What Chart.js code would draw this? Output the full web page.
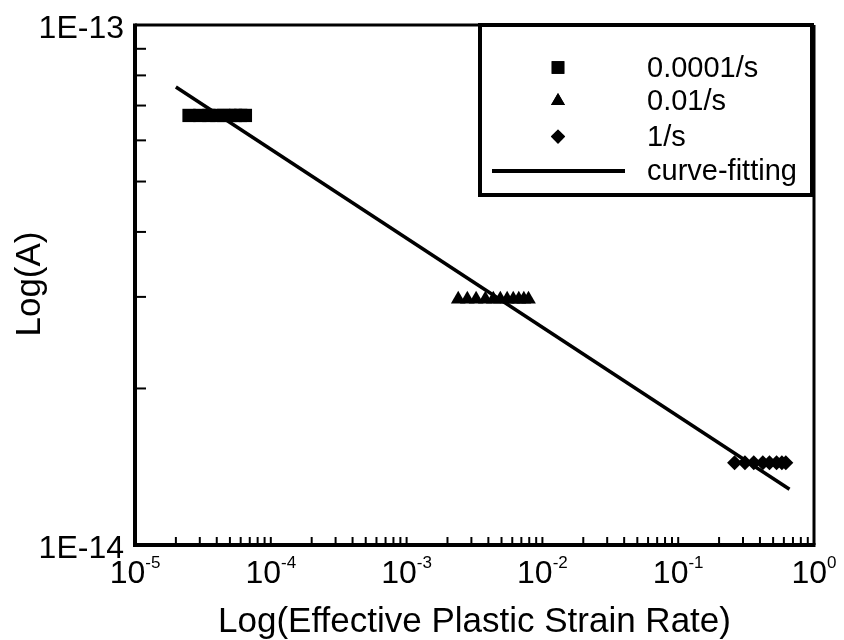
<!DOCTYPE html>
<html>
<head>
<meta charset="utf-8">
<script src="https://cdn.jsdelivr.net/npm/chart.js@4.4.1/dist/chart.umd.min.js"></script>
<style>
  body { margin: 0; background: #fff; }
  canvas { display: block; }
</style>
</head>
<body>
<canvas id="chart" width="844" height="640"></canvas>
<script>
// 0.0001/s group
const rateSlow = [2.5e-5, 3e-5, 3.5e-5, 4e-5, 4.5e-5, 5e-5, 5.5e-5, 6e-5, 6.5e-5];
const aSlow = [6.7e-14, 6.7e-14, 6.7e-14, 6.7e-14, 6.7e-14, 6.7e-14, 6.7e-14, 6.7e-14, 6.7e-14];
// 0.01/s group
const rateMid = [2.4e-3, 2.8e-3, 3.25e-3, 3.8e-3, 4.35e-3, 4.9e-3, 5.5e-3, 6.1e-3, 6.7e-3, 7.3e-3, 7.9e-3];
const aMid = [2.97e-14, 2.97e-14, 2.97e-14, 2.97e-14, 2.97e-14, 2.97e-14, 2.97e-14, 2.97e-14, 2.97e-14, 2.97e-14, 2.97e-14];
// 1/s group
const rateFast = [0.26, 0.31, 0.36, 0.42, 0.47, 0.53, 0.58, 0.62];
const aFast = [1.44e-14, 1.44e-14, 1.44e-14, 1.44e-14, 1.44e-14, 1.44e-14, 1.44e-14, 1.44e-14];
// curve-fitting end points
const fitRate = [2e-5, 0.66];
const fitA = [7.6e-14, 1.28e-14];

const xDecades = [1e-5, 1e-4, 1e-3, 1e-2, 1e-1, 1];
const xExponents = ['-5', '-4', '-3', '-2', '-1', '0'];
const yDecades = [1e-14, 1e-13];
const yTickLabels = ['1E-14', '1E-13'];
const legendLabels = ['0.0001/s', '0.01/s', '1/s', 'curve-fitting'];

const FONT = '"Liberation Sans", Arial, sans-serif';

// 1..9 minor ticks in every decade
function decadeTicks(decades) {
    const ticks = [];
    for (let i = 0; i < decades.length - 1; i++) {
        for (let m = 1; m < 10; m++) {
            ticks.push({ value: Number((m * decades[i]).toPrecision(3)) });
        }
    }
    ticks.push({ value: decades[decades.length - 1] });
    return ticks;
}

function toPoints(xs, ys) {
    return xs.map((v, i) => ({ x: v, y: ys[i] }));
}

function drawLine(ctx, x1, y1, x2, y2) {
    ctx.beginPath();
    ctx.moveTo(x1, y1);
    ctx.lineTo(x2, y2);
    ctx.stroke();
}

// frame, inner ticks, tick labels, axis titles and the boxed legend
const axisDecor = {
    id: 'axisDecor',
    beforeDatasetsDraw(chart) {
        const { ctx, chartArea: a, scales: { x, y } } = chart;
        ctx.save();
        ctx.strokeStyle = '#000';
        ctx.lineWidth = 2;
        x.ticks.forEach(t => {
            const px = x.getPixelForValue(t.value);
            drawLine(ctx, px, a.bottom, px, a.bottom - 8);
        });
        y.ticks.forEach(t => {
            const py = y.getPixelForValue(t.value);
            drawLine(ctx, a.left, py, a.left + 11, py);
        });
        ctx.lineWidth = 3;
        drawLine(ctx, a.left, a.top, a.right, a.top);
        drawLine(ctx, a.right, a.top, a.right, a.bottom);
        ctx.lineWidth = 4;
        drawLine(ctx, a.left, a.top - 1.5, a.left, a.bottom + 2);
        drawLine(ctx, a.left - 2, a.bottom, a.right + 1.5, a.bottom);
        ctx.restore();
    },
    afterDraw(chart) {
        const { ctx, chartArea: a, scales: { x, y } } = chart;
        ctx.save();
        ctx.fillStyle = '#000';

        // y tick labels
        ctx.font = '32px ' + FONT;
        ctx.textAlign = 'right';
        ctx.textBaseline = 'alphabetic';
        yDecades.forEach((v, i) => {
            ctx.fillText(yTickLabels[i], a.left - 11, y.getPixelForValue(v) + 13);
        });

        // x tick labels: 10 with superscript exponent
        ctx.textAlign = 'left';
        xDecades.forEach((v, i) => {
            ctx.font = '32px ' + FONT;
            const wBase = ctx.measureText('10').width;
            ctx.font = '17px ' + FONT;
            const wExp = ctx.measureText(xExponents[i]).width;
            const left = x.getPixelForValue(v) - (wBase + wExp) / 2;
            ctx.font = '32px ' + FONT;
            ctx.fillText('10', left, a.bottom + 38);
            ctx.font = '17px ' + FONT;
            ctx.fillText(xExponents[i], left + wBase, a.bottom + 23);
        });

        // axis titles
        ctx.font = '35px ' + FONT;
        ctx.textAlign = 'center';
        ctx.fillText('Log(Effective Plastic Strain Rate)', (a.left + a.right) / 2, 632);
        ctx.save();
        ctx.translate(40, 284);
        ctx.rotate(-Math.PI / 2);
        ctx.fillText('Log(A)', 0, 0);
        ctx.restore();

        // legend box
        const box = { left: 480, top: 25, right: 812, bottom: 195 };
        ctx.fillStyle = '#fff';
        ctx.fillRect(box.left, box.top, box.right - box.left, box.bottom - box.top);
        ctx.strokeStyle = '#000';
        ctx.lineWidth = 4;
        ctx.strokeRect(box.left, box.top, box.right - box.left, box.bottom - box.top);

        const rows = [67.5, 101, 136.5, 171];
        const ds = chart.data.datasets;
        ctx.fillStyle = '#000';
        for (let i = 0; i < 3; i++) {
            Chart.helpers.drawPoint(ctx, {
                pointStyle: ds[i].pointStyle,
                radius: ds[i].pointRadius * 0.95,
                borderWidth: 0
            }, 558, rows[i]);
            ctx.fill();
        }
        ctx.lineWidth = 4;
        drawLine(ctx, 492, rows[3], 625, rows[3]);

        ctx.font = '29px ' + FONT;
        ctx.textAlign = 'left';
        ctx.textBaseline = 'middle';
        legendLabels.forEach((label, i) => {
            ctx.fillText(label, 647, rows[i] + 1);
        });
        ctx.restore();
    }
};

new Chart(document.getElementById('chart'), {
    type: 'scatter',
    data: {
        datasets: [
            {
                label: legendLabels[0],
                data: toPoints(rateSlow, aSlow),
                pointStyle: 'rect',
                pointRadius: 9.4,
                backgroundColor: '#000',
                borderWidth: 0
            },
            {
                label: legendLabels[1],
                data: toPoints(rateMid, aMid),
                pointStyle: 'triangle',
                pointRadius: 8.5,
                backgroundColor: '#000',
                borderWidth: 0
            },
            {
                label: legendLabels[2],
                data: toPoints(rateFast, aFast),
                pointStyle: 'rectRot',
                pointRadius: 7.5,
                backgroundColor: '#000',
                borderWidth: 0
            },
            {
                label: legendLabels[3],
                data: toPoints(fitRate, fitA),
                showLine: true,
                pointRadius: 0,
                borderColor: '#000',
                borderWidth: 3.5
            }
        ]
    },
    options: {
        responsive: false,
        animation: false,
        events: [],
        layout: { padding: { left: 127, right: 30, top: 25, bottom: 87 } },
        plugins: {
            legend: { display: false },
            tooltip: { enabled: false }
        },
        scales: {
            x: {
                type: 'logarithmic',
                min: 1e-5,
                max: 1,
                afterBuildTicks: scale => { scale.ticks = decadeTicks(xDecades); },
                ticks: { display: false },
                grid: { display: false },
                border: { display: false }
            },
            y: {
                type: 'logarithmic',
                min: 1e-14,
                max: 1e-13,
                afterBuildTicks: scale => { scale.ticks = decadeTicks(yDecades); },
                ticks: { display: false },
                grid: { display: false },
                border: { display: false }
            }
        }
    },
    plugins: [axisDecor]
});
</script>
</body>
</html>
